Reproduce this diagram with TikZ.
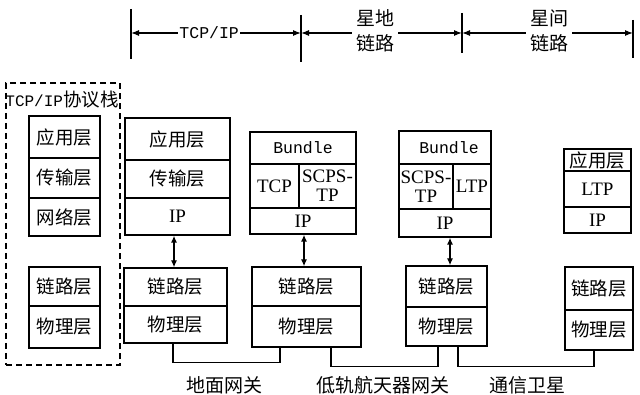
\documentclass[tikz,border=0pt]{standalone}
\usepackage{fontspec}
\setmainfont{Liberation Serif}
\newfontfamily\cjk{Noto Sans CJK SC}
\newfontfamily\mono{Liberation Mono}
\usetikzlibrary{arrows.meta}
\begin{document}
\begin{tikzpicture}[x=1pt,y=-1pt,
  cell/.style={draw, line width=1.3pt, inner sep=0pt, font=\fontsize{19}{19}\selectfont},
  zh/.style={font=\cjk\fontsize{18.5}{18.5}\selectfont},
  dbl/.style={{Latex[length=7pt,width=6pt]}-{Latex[length=7pt,width=6pt]}, line width=1.3pt},
  dim/.style={{Latex[length=8pt,width=6pt]}-{Latex[length=8pt,width=6pt]}, line width=1.1pt},
  tickline/.style={line width=1.2pt},
  wire/.style={line width=1.2pt},
  lbl/.style={fill=white, inner xsep=1pt, inner ysep=0pt, align=center},
  caption/.style={font=\cjk\fontsize{19}{19}\selectfont}]
\useasboundingbox (0,0) rectangle (640,395);
\fill[white] (0,0) rectangle (640,395);

% top dimension lines
\coordinate (t1a) at (131,9);   \coordinate (t1b) at (131,59);
\coordinate (t2a) at (301,15);  \coordinate (t2b) at (301,62);
\coordinate (t3a) at (462,13);  \coordinate (t3b) at (462,53);
\coordinate (t4a) at (633,20);  \coordinate (t4b) at (633,58);
\draw[tickline] (t1a) -- (t1b);
\draw[tickline] (t2a) -- (t2b);
\draw[tickline] (t3a) -- (t3b);
\draw[tickline] (t4a) -- (t4b);
\coordinate (p1) at (131,33);
\coordinate (p2) at (301,33);
\coordinate (p3) at (462,33);
\coordinate (p4) at (633,33);
\draw[dim] (p1) -- node[lbl, pos=0.46, font=\mono\fontsize{16.5}{16.5}\selectfont] (lab1) {TCP/IP} (p2);
\draw[dim] (p2) -- node[lbl, pos=0.46, yshift=2.5pt, inner xsep=4pt, font=\cjk\fontsize{19}{25}\selectfont] (lab2) {星地\\链路} (p3);
\draw[dim] (p3) -- node[lbl, pos=0.51, yshift=2.5pt, inner xsep=4pt, font=\cjk\fontsize{19}{25}\selectfont] (lab3) {星间\\链路} (p4);

% left reference stack
\node[draw, line width=1.2pt, dash pattern=on 6pt off 4pt, minimum width=114, minimum height=282, inner sep=0pt] (ref) at (63,224) {};
\node[inner sep=0pt] (reftitle) at (62,100) {\mono\fontsize{16}{16}\selectfont TCP/IP\cjk\fontsize{18.5}{18.5}\selectfont 协议栈};
\node[cell, zh, minimum width=71, minimum height=42] (L1) at (64.5,137) {应用层};
\node[cell, zh, minimum width=71, minimum height=40] (L2) at (64.5,178) {传输层};
\node[cell, zh, minimum width=71, minimum height=38] (L3) at (64.5,217) {网络层};
\node[cell, zh, minimum width=71, minimum height=39] (L4) at (64.5,286.5) {链路层};
\node[cell, zh, minimum width=71, minimum height=42] (L5) at (64.5,327) {物理层};

% ground host
\node[cell, zh, minimum width=105, minimum height=42] (A1) at (177.5,139) {应用层};
\node[cell, zh, minimum width=105, minimum height=38] (A2) at (177.5,179) {传输层};
\node[cell, minimum width=105, minimum height=37] (A3) at (177.5,216.5) {IP};
\node[cell, zh, minimum width=103, minimum height=38] (A4) at (175.5,287) {链路层};
\node[cell, zh, minimum width=103, minimum height=37] (A5) at (175.5,324.5) {物理层};

% ground gateway
\node[cell, font=\mono\fontsize{16.5}{16.5}\selectfont, minimum width=106, minimum height=32] (B1) at (303,148) {Bundle};
\node[cell, minimum width=49, minimum height=44] (B2) at (274.5,186) {TCP};
\node[cell, align=center, font=\fontsize{19}{19}\selectfont, minimum width=57, minimum height=44] (B3) at (327.5,186) {SCPS-\\TP};
\node[cell, minimum width=106, minimum height=26] (B4) at (303,221) {IP};
\node[cell, zh, minimum width=109, minimum height=39] (B5) at (306.5,286.5) {链路层};
\node[cell, zh, minimum width=109, minimum height=41] (B6) at (306.5,326.5) {物理层};

% LEO gateway
\node[cell, font=\mono\fontsize{16.5}{16.5}\selectfont, minimum width=92, minimum height=33] (C1) at (445,147.5) {\hspace*{8pt}Bundle};
\node[cell, align=center, font=\fontsize{19}{19}\selectfont, minimum width=54, minimum height=45] (C2) at (426,186.5) {SCPS-\\TP};
\node[cell, minimum width=38, minimum height=45] (C3) at (472,186.5) {LTP};
\node[cell, minimum width=92, minimum height=28] (C4) at (445,223) {IP};
\node[cell, zh, minimum width=81, minimum height=41] (C5) at (446.5,286.5) {链路层};
\node[cell, zh, minimum width=81, minimum height=39] (C6) at (446.5,326.5) {物理层};

% relay satellite
\node[cell, zh, minimum width=67, minimum height=22] (D1) at (597.5,160) {应用层};
\node[cell, minimum width=67, minimum height=36] (D2) at (597.5,189) {LTP};
\node[cell, minimum width=67, minimum height=26] (D3) at (597.5,220) {IP};
\node[cell, zh, minimum width=68, minimum height=43] (D4) at (599,288.5) {链路层};
\node[cell, zh, minimum width=68, minimum height=40] (D5) at (599,330) {物理层};

% vertical double arrows
\draw[dbl] ([xshift=-3.5pt]A3.south) -- ([xshift=-1.5pt]A4.north);
\draw[dbl] ([xshift=1pt]B4.south) -- ([xshift=-2.5pt]B5.north);
\draw[dbl] ([xshift=5pt]C4.south) -- ([xshift=3.5pt]C5.north);

% physical links
\draw[wire] ([xshift=-2.5pt]A5.south) -- ++(0,19) -| ([xshift=-26.5pt]B6.south);
\draw[wire] ([xshift=24.5pt]B6.south) -- ++(0,19) -| ([xshift=-8.5pt]C6.south);
\draw[wire] ([xshift=11.5pt]C6.south) -- ++(0,20) -| ([xshift=-5pt]D5.south);

% captions
\node[caption] (cap1) at (224,385) {地面网关};
\node[caption] (cap2) at (383,385) {低轨航天器网关};
\node[caption] (cap3) at (527,385) {通信卫星};
\end{tikzpicture}
\end{document}
